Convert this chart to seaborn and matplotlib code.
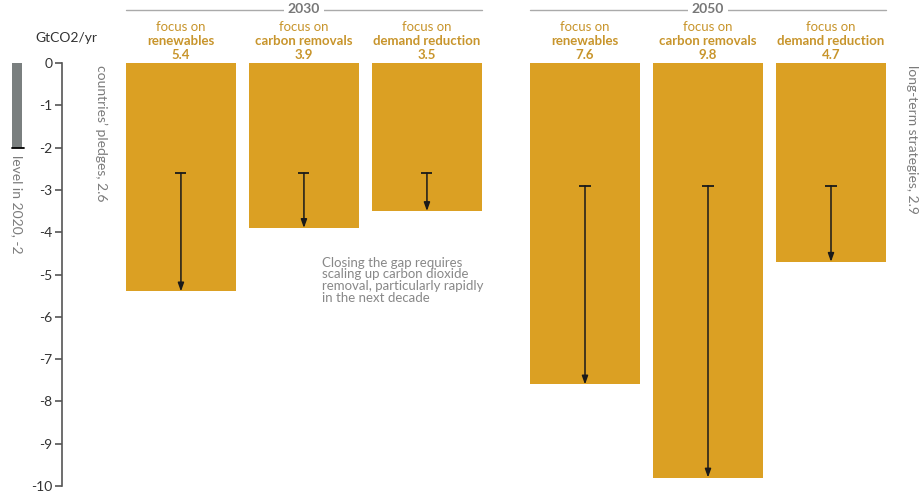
import matplotlib
matplotlib.use('Agg')
import matplotlib.pyplot as plt
import matplotlib.transforms as mtransforms
import seaborn as sns
import numpy as np
import pandas as pd

# data
years = ['2030', '2030', '2030', '2050', '2050', '2050']
focus = ['renewables', 'carbon removals', 'demand reduction',
         'renewables', 'carbon removals', 'demand reduction']
reductions = [5.4, 3.9, 3.5, 7.6, 9.8, 4.7]
start_level = [2.6, 2.6, 2.6, 2.9, 2.9, 2.9]
level_2020 = -2
yticks = [0, -1, -2, -3, -4, -5, -6, -7, -8, -9, -10]

bar_col = '#DBA023'
lab_col = '#C8952C'
grey_txt = '#7B7B7B'

sns.set_style('white')
plt.rcParams['font.family'] = ['Lato', 'DejaVu Sans']

# bar positions: 2050 group shifted a bit to leave a gap
pos = np.arange(len(reductions)) + np.where(np.array(years) == '2050', 0.285, 0)
df = pd.DataFrame({'pos': pos, 'value': [-v for v in reductions],
                   'year': years, 'focus': focus})

fig = plt.figure(figsize=(9.19, 4.92), dpi=100)
W, H = 919, 492
ax = fig.add_axes([62 / W, 1 - 486 / H, (900 - 62) / W, 423 / H])

sns.barplot(data=df, x='pos', y='value', native_scale=True, width=0.89,
            color=bar_col, saturation=1, errorbar=None, linewidth=0, ax=ax)

ax.set_ylim(-10, 0)
ax.set_xlim(-0.967, 5.846)
ax.set_yticks(yticks)
ax.set_yticklabels([str(t) for t in yticks], fontsize=10, color='#333333')
ax.set_xticks([])
ax.set_xlabel('')
ax.set_ylabel('')
for s in ['top', 'right', 'bottom']:
    ax.spines[s].set_visible(False)
ax.spines['left'].set_color('#555555')
ax.spines['left'].set_linewidth(1.2)
ax.tick_params(axis='y', length=5, width=1.2, color='#555555', pad=2, left=True)

# arrows from the pledge level down to each scenario
for p, s, v in zip(pos, start_level, reductions):
    ax.annotate('', xy=(p, -v), xytext=(p, -s),
                arrowprops=dict(arrowstyle='-|>,head_length=0.5,head_width=0.18',
                                color='#1a1a1a', lw=1.1, shrinkA=0, shrinkB=0))
ax.hlines([-s for s in start_level], pos - 0.045, pos + 0.045,
          color='#1a1a1a', lw=1.3)

# labels above bars
trans = mtransforms.blended_transform_factory(ax.transData, fig.transFigure)
for p, f, v in zip(pos, focus, reductions):
    ax.text(p, 1 - 27 / H, 'focus on', transform=trans, ha='center', va='center',
            fontsize=9.5, color=lab_col)
    ax.text(p, 1 - 41 / H, f, transform=trans, ha='center', va='center',
            fontsize=9.5, color=lab_col, fontweight='bold')
    ax.text(p, 1 - 55 / H, f'{v}', transform=trans, ha='center', va='center',
            fontsize=9.5, color=lab_col, fontweight='bold')

# year headers
for yr in ['2030', '2050']:
    gp = pos[np.array(years) == yr]
    left, right = gp.min() - 0.445, gp.max() + 0.445
    mid = (left + right) / 2
    ax.plot([left, right], [1 - 10 / H] * 2, transform=trans, color='#AAAAAA',
            lw=1, clip_on=False)
    ax.text(mid, 1 - 9 / H, yr, transform=trans, ha='center', va='center',
            fontsize=10, color='#777777', fontweight='bold',
            bbox=dict(facecolor='white', edgecolor='none', pad=3))

# unit label
fig.text(35 / W, 1 - 38 / H, 'GtCO2/yr', ha='left', va='center', fontsize=10,
         color='#333333')

# side annotations
fig.text(101 / W, 1 - 65 / H, 'countries\u2019 pledges, 2.6', rotation=270,
         ha='center', va='top', fontsize=10, color=grey_txt)
fig.text(912 / W, 1 - 65 / H, 'long-term strategies, 2.9', rotation=270,
         ha='center', va='top', fontsize=10, color=grey_txt)
fig.text(17 / W, 1 - 155 / H, 'level in 2020, -2', rotation=270,
         ha='center', va='top', fontsize=10, color=grey_txt)

fig.text(322 / W, 1 - 257 / H,
         'Closing the gap requires\nscaling up carbon dioxide\n'
         'removal, particularly rapidly\nin the next decade',
         ha='left', va='top', fontsize=9.5, color='#888888', linespacing=0.95)

# 2020 level bar on the far left
ax2 = fig.add_axes([12 / W, 1 - 486 / H, 10 / W, 423 / H])
sns.barplot(x=['2020'], y=[level_2020], width=1, color='#7A7F7F', saturation=1,
            linewidth=0, ax=ax2)
ax2.set_ylim(-10, 0)
ax2.set_xlim(-0.5, 0.5)
ax2.axhline(level_2020, xmin=0, xmax=1.15, color='black', lw=1.3, clip_on=False)
ax2.axis('off')

fig.savefig('out.png', dpi=100)
